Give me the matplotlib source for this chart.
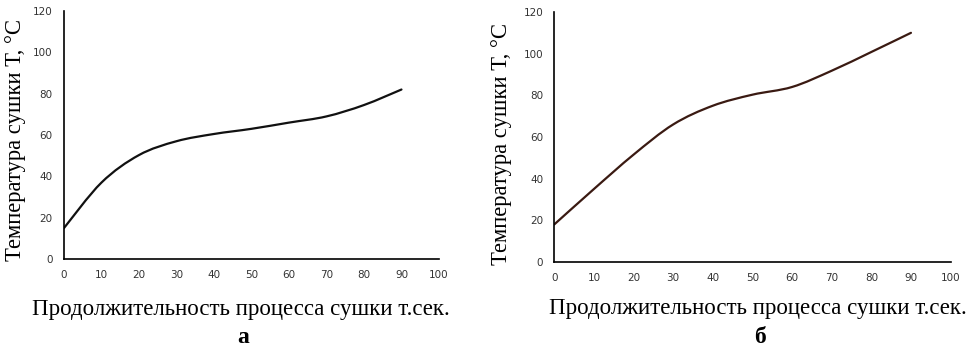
import matplotlib
matplotlib.use("Agg")
import matplotlib.pyplot as plt
from matplotlib.path import Path
from matplotlib.patches import PathPatch

# Drying time, s
time_s = [0, 10, 20, 30, 40, 50, 60, 70, 80, 90]
# Drying temperature, °C (panel а and panel б)
temp_a = [15, 37, 50.3, 57, 60.5, 63, 66, 69, 74.5, 82]
temp_b = [18, 35, 51.5, 66, 75, 80.3, 84, 91.8, 100.8, 110]

x_ticks = [0, 10, 20, 30, 40, 50, 60, 70, 80, 90, 100]
y_ticks = [0, 20, 40, 60, 80, 100, 120]

xlabel = "Продолжительность процесса сушки т.сек."
ylabel = "Температура сушки Т, °С"


def smooth_path(xs, ys):
    # Excel-style smoothed line: cubic Bezier segments through every point
    pts = list(zip(xs, ys))
    verts = [pts[0]]
    codes = [Path.MOVETO]
    n = len(pts)
    for i in range(n - 1):
        p0 = pts[max(i - 1, 0)]
        p1 = pts[i]
        p2 = pts[i + 1]
        p3 = pts[min(i + 2, n - 1)]
        c1 = (p1[0] + (p2[0] - p0[0]) / 6, p1[1] + (p2[1] - p0[1]) / 6)
        c2 = (p2[0] - (p3[0] - p1[0]) / 6, p2[1] - (p3[1] - p1[1]) / 6)
        verts += [c1, c2, p2]
        codes += [Path.CURVE4] * 3
    return Path(verts, codes)


fig = plt.figure(figsize=(9.69, 3.53), dpi=100)

# rect, data, line colour, panel letter, (xlabel pos), (ylabel pos), letter x
panels = [
    ([0.066, 0.266, 0.387, 0.703], temp_a, "#111111", "а",
     (0.2487, 0.122), (0.0155, 0.603), 0.251),
    ([0.572, 0.258, 0.409, 0.708], temp_b, "#3a1a12", "б",
     (0.782, 0.127), (0.518, 0.592), 0.784),
]

for rect, temps, color, letter, xl_pos, yl_pos, letter_x in panels:
    ax = fig.add_axes(rect)
    ax.add_patch(PathPatch(smooth_path(time_s, temps), fill=False,
                           edgecolor=color, linewidth=1.6, capstyle="round"))
    ax.set_xlim(0, 100)
    ax.set_ylim(0, 120)
    ax.set_xticks(x_ticks)
    ax.set_yticks(y_ticks)
    ax.tick_params(length=0, labelsize=7.5, colors="#333333", pad=8)
    for side in ("top", "right"):
        ax.spines[side].set_visible(False)
    for side in ("left", "bottom"):
        ax.spines[side].set_linewidth(1.2)
        ax.spines[side].set_color("black")
    fig.text(xl_pos[0], xl_pos[1], xlabel, family="Liberation Serif",
             fontsize=16.5, ha="center", va="center")
    fig.text(yl_pos[0], yl_pos[1], ylabel, family="Liberation Serif",
             fontsize=16.3, rotation=90, ha="center", va="center")
    fig.text(letter_x, 0.045, letter, family="Liberation Serif", fontsize=17,
             fontweight="bold", ha="center", va="center")

fig.savefig("out.png", dpi=100)
